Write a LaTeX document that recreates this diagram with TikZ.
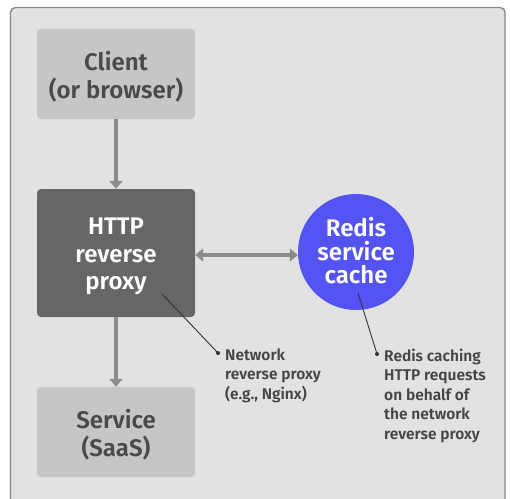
\documentclass[tikz,border=0pt]{standalone}
\usepackage{fontspec}
\setmainfont{Fira Sans SemiBold}
\usetikzlibrary{arrows.meta}
\definecolor{panel}{HTML}{E2E2E2}
\definecolor{panelline}{HTML}{858585}
\definecolor{lightbox}{HTML}{C6C6C6}
\definecolor{darkbox}{HTML}{666666}
\definecolor{boxtext}{HTML}{4A4A4A}
\definecolor{arrowgray}{HTML}{8C8C8C}
\definecolor{redisblue}{HTML}{5454F4}
\definecolor{notetext}{HTML}{454545}
\begin{document}
\begin{tikzpicture}[x=1pt,y=-1pt,
  lightbox/.style={fill=lightbox,rounded corners=4pt,minimum width=158pt,minimum height=90pt,inner sep=0pt},
  darkbox/.style={fill=darkbox,rounded corners=4pt,minimum width=158pt,minimum height=128pt,inner sep=0pt},
  cachecircle/.style={circle,fill=redisblue,minimum size=116pt,inner sep=0pt},
  lighttext/.style={inner sep=0pt,text=boxtext,align=center,font=\fontsize{24}{28}\selectfont},
  darktext/.style={inner sep=0pt,text=white,align=center,font=\fontsize{24}{27.5}\selectfont},
  cachetext/.style={inner sep=0pt,text=white,align=center,font=\fontsize{24}{23.5}\selectfont},
  flow/.style={arrowgray,line width=4pt,-{Triangle[width=13pt,length=8pt]}},
  flowboth/.style={arrowgray,line width=4pt,{Triangle[width=13pt,length=8pt]}-{Triangle[width=13pt,length=8pt]}},
  note/.style={anchor=north west,inner sep=0pt,text=notetext,align=left,font=\fontsize{15.5}{19.5}\selectfont},
  leader/.style={draw=black!80,line width=0.9pt},
  dot/.style={circle,fill=black!80,inner sep=0pt,minimum size=4pt}]
\useasboundingbox (0,0) rectangle (510,498);
\fill[white] (0,0) rectangle (510,498);
\draw[panelline,fill=panel,line width=1.3pt,rounded corners=5pt] (10.5,520) -- (10.5,7.5) -- (505,7.5) -- (505,520);
\node[lightbox] (client) at (116,74) {};
\node[lighttext] (clientlbl) at (116,77) {Client\\(or browser)};
\node[darkbox] (proxy) at (116,253) {};
\node[darktext] (proxylbl) at (116,256.5) {HTTP\\reverse\\proxy};
\node[lightbox] (service) at (116,432) {};
\node[lighttext] (servicelbl) at (116,435) {Service\\(SaaS)};
\node[cachecircle] (redis) at (356,252) {};
\node[cachetext] (redislbl) at (356,251) {Redis\\service\\cache};
\draw[flow] (client.south) -- (proxy.north);
\draw[flow] (proxy.south) -- (service.north);
\draw[flowboth] (proxy.east |- 0,255) -- (redis.west |- 0,255);
\coordinate (p1) at (162,294);
\node[dot] (d1) at (218,353) {};
\draw[leader] (p1) -- (d1.center);
\node[note] (n1) at (225,348.5) {Network\\reverse proxy\\(e.g., Nginx)};
\coordinate (p2) at (358,293);
\node[dot] (d2) at (377,354) {};
\draw[leader] (p2) -- (d2.center);
\node[note] (n2) at (384,348.5) {Redis caching\\HTTP requests\\on behalf of\\the network\\reverse proxy};
\end{tikzpicture}
\end{document}
